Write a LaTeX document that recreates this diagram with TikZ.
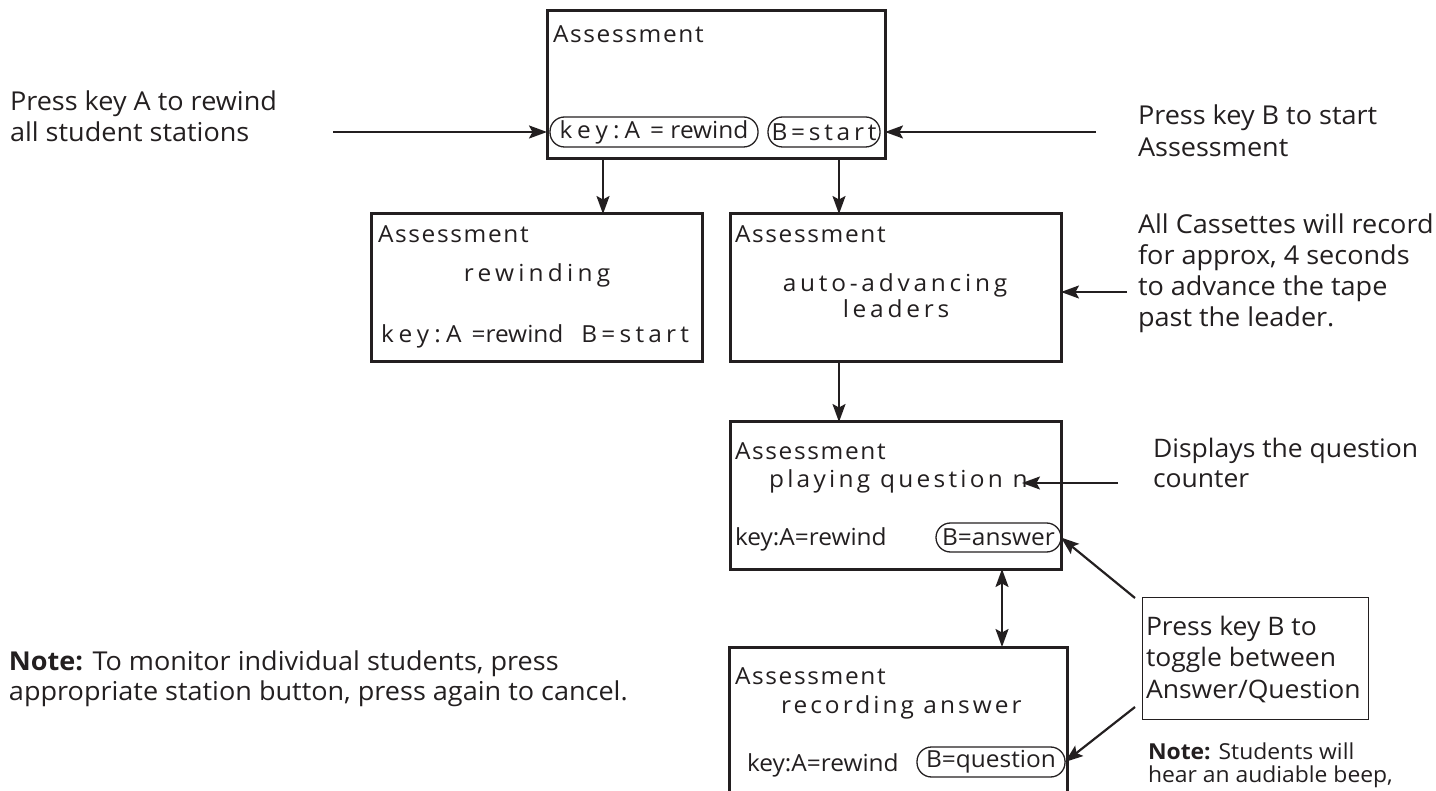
\documentclass[tikz,border=0pt]{standalone}
\usepackage{fontspec}
\setmainfont{Open Sans}[FakeStretch=1.04]
\usetikzlibrary{arrows.meta}
\definecolor{ink}{HTML}{231F20}
\newcommand\boxfont{\fontsize{23.5}{27}\selectfont}
\newcommand\lblfont{\fontsize{26}{31}\selectfont}
\newcommand\lsp[2]{{\addfontfeature{LetterSpace=#1}#2}}
\tikzset{
 box/.style={draw=ink, line width=3pt, inner sep=0pt, outer sep=0pt, rectangle},
 thinbox/.style={draw=ink, line width=1pt, inner sep=0pt, outer sep=0pt, rectangle},
 pill/.style={draw=ink, line width=1.3pt, rounded corners=14.5pt, inner sep=0pt, outer sep=0pt, minimum height=30pt, text=ink, font=\boxfont},
 txt/.style={inner sep=0pt, outer sep=0pt, anchor=base west, text=ink, font=\boxfont},
 lbl/.style={inner sep=0pt, outer sep=0pt, anchor=base west, text=ink, align=left, font=\lblfont},
 tip/.tip={Stealth[length=18pt,width=13pt,inset=3.5pt]},
 arr/.style={draw=ink, line width=2.2pt, -tip},
 darr/.style={draw=ink, line width=2.2pt, tip-tip},
}
\begin{document}
\begin{tikzpicture}[x=1pt,y=-1pt]
\useasboundingbox (0,0) rectangle (1436,791);
\clip (0,0) rectangle (1436,791);
% boxes
\node[box, minimum width=338pt, minimum height=148pt] (top) at (716,85) {};
\node[box, minimum width=331pt, minimum height=148pt] (rew) at (536.5,288) {};
\node[box, minimum width=331pt, minimum height=148pt] (auto) at (895.5,288) {};
\node[box, minimum width=331pt, minimum height=147pt] (play) at (895.5,495.5) {};
\node[box, minimum width=338pt, minimum height=200pt] (rec) at (898,747) {};
\node[thinbox, minimum width=226pt, minimum height=122pt] (tog) at (1255,658) {};
% top box
\node[txt] (t1) at (553,43) {\lsp{7}{Assessment}};
\node[pill, minimum width=208pt] (keyA) at (654,132) {\lsp{22}{key:A}\hspace{10pt}= rewind};
\node[pill, minimum width=112pt] (Bs) at (824,132) {\lsp{16}{B=start}};
% rewinding box
\node[txt] (r1) at (378,243) {\lsp{7}{Assessment}};
\node[txt, anchor=base] (r2) at (537,282) {\lsp{18}{rewinding}};
\node[txt] (r3) at (381,343) {\lsp{22}{key:A}\hspace{10pt}=rewind\hspace{18pt}\lsp{18}{B=start}};
% auto box
\node[txt] (a1) at (735,243) {\lsp{7}{Assessment}};
\node[txt, anchor=base] (a2) at (895,292) {\lsp{16}{auto-advancing}};
\node[txt, anchor=base] (a3) at (896,318) {\lsp{16}{leaders}};
% playing box
\node[txt] (p1) at (735,460) {\lsp{7}{Assessment}};
\node[txt] (p2) at (769,488) {\lsp{14}{playing question n}};
\node[txt] (p3) at (735,545) {key:A=rewind};
\node[pill, minimum width=125pt, minimum height=29pt] (Ba) at (998.5,537.5) {B=answer};
% recording box
\node[txt] (q1) at (735,684) {\lsp{7}{Assessment}};
\node[txt] (q2) at (781,713) {\lsp{13}{recording answer}};
\node[txt] (q3) at (747,771) {key:A=rewind};
\node[pill, minimum width=148pt] (Bq) at (991,762) {B=question};
% labels
\node[lbl] (lA) at (10,142) {Press key A to rewind\\all student stations};
\node[lbl, font=\fontsize{26}{32}\selectfont] (lB) at (1138,157) {Press key B to start\\Assessment};
\node[lbl] (lC) at (1138,327) {All Cassettes will record\\for approx, 4 seconds\\to advance the tape\\past the leader.};
\node[lbl, font=\fontsize{25.5}{30}\selectfont] (lD) at (1153,488) {Displays the question\\counter};
\node[lbl, font=\fontsize{25.5}{31.5}\selectfont] (lT) at (1146,698) {Press key B to\\toggle between\\Answer/Question};
\node[lbl, font=\fontsize{22}{23}\selectfont] (lN) at (1148,782) {\textbf{Note:} Students will\\hear an audiable beep,};
\node[lbl, font=\fontsize{26}{30}\selectfont] (lM) at (9,700) {\textbf{Note:} To monitor individual students, press\\appropriate station button, press again to cancel.};
% connector anchors
\coordinate (sA) at (333,132);
\coordinate (sB) at (1096,132);
\coordinate (xL) at (603,0);
\coordinate (xR) at (839,0);
\coordinate (sC) at (1127,292);
\coordinate (sD) at (1118,483);
\coordinate (eD) at (1022,483);
\coordinate (xQ) at (1002,0);
\coordinate (c1) at (1135,598);
\coordinate (c2) at (1135,707);
% connectors
\draw[arr] (sA) -- (sA -| top.west);
\draw[arr] (sB) -- (sB -| top.east);
\draw[arr] (top.south -| xL) -- (rew.north -| xL);
\draw[arr] (top.south -| xR) -- (auto.north -| xR);
\draw[arr] (auto.south -| xR) -- (play.north -| xR);
\draw[arr] (sC) -- (sC -| auto.east);
\draw[arr] (sD) -- (eD);
\draw[darr] (play.south -| xQ) -- (rec.north -| xQ);
\draw[arr] (c1) -- (Ba.east);
\draw[arr] (c2) -- (Bq.east);
\end{tikzpicture}
\end{document}
